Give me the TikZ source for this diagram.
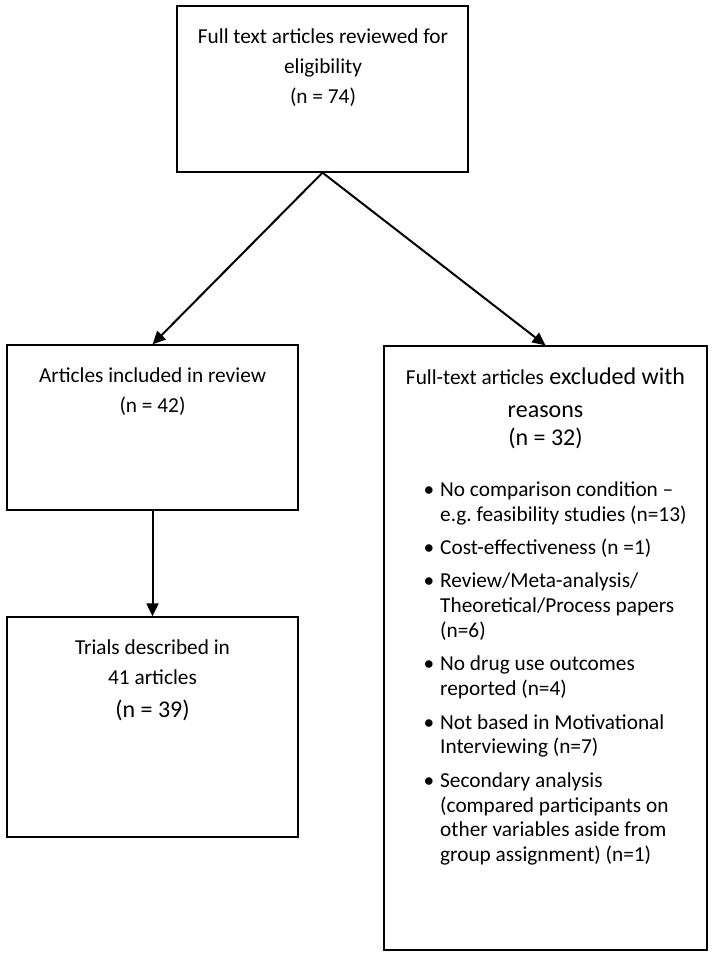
\documentclass[tikz,border=0pt]{standalone}
\usepackage{fontspec}
\setmainfont{Carlito}
\usepackage{tikz}
\usetikzlibrary{
  arrows.meta}

\tikzset{
  flowbox/.style={draw, line width=1.3pt, inner sep=0pt},
  flowtext/.style={align=center, inner sep=0pt, anchor=north,
    font=\fontsize{21.3}{30}\selectfont\frenchspacing},
  flowarrow/.style={line width=2pt, -{Triangle[length=13pt,width=12pt]}}
}
\newcommand{\flowstrut}{\rule{0pt}{20pt}}
\newcommand{\exbullet}{\leavevmode\llap{\textbullet\hspace{6pt}}}

\begin{document}
\begin{tikzpicture}[x=1pt,y=-1pt]
\useasboundingbox (0,0) rectangle (714,957);

% boxes
\node[flowbox, minimum width=291pt, minimum height=166pt] (full) at (322.5,89) {};
\node[flowbox, minimum width=291pt, minimum height=165pt] (incl) at (152.5,427.5) {};
\node[flowbox, minimum width=291pt, minimum height=220pt] (trials) at (152.5,727) {};
\node[flowbox, minimum width=323pt, minimum height=604pt] (excl) at (545.5,648) {};

% texts (top of strut = first baseline - 20)
\node[flowtext] (fulltxt) at (323,23)
  {\flowstrut Full text articles reviewed for\\ eligibility\\ (n = 74)};
\node[flowtext] (incltxt) at (152.5,362)
  {\flowstrut Articles included in review\\ (n = 42)};
\node[flowtext] (trialtxt) at (152.5,634)
  {\flowstrut Trials described in\\ 41 articles\\[3pt] {\fontsize{24}{30}\selectfont (n = 39)}};
\node[flowtext, font=\fontsize{24}{33}\selectfont] (excltxt) at (545.5,364)
  {\flowstrut{\fontsize{21.3}{33}\selectfont Full-text articles} excluded with\\ reasons\\[-5pt] (n = 32)};
\node[inner sep=0pt, anchor=north west, align=left,
  font=\fontsize{21.3}{24.8}\selectfont\frenchspacing] (excllist) at (440,476)
  {\flowstrut\exbullet No comparison condition --\\ e.g. feasibility studies (n=13)\\[8.6pt]
   \exbullet Cost-effectiveness (n =1)\\[8.6pt]
   \exbullet Review/Meta-analysis/\\ Theoretical/Process papers\\ (n=6)\\[8.6pt]
   \exbullet No drug use outcomes\\ reported (n=4)\\[8.6pt]
   \exbullet Not based in Motivational\\ Interviewing (n=7)\\[8.6pt]
   \exbullet Secondary analysis\\ (compared participants on\\ other variables aside from\\ group assignment) (n=1)};

% arrows
\draw[flowarrow] (full.south) -- (incl.north);
\draw[flowarrow] (full.south) -- (excl.north);
\draw[flowarrow] (incl.south) -- (trials.north);

\end{tikzpicture}
\end{document}
